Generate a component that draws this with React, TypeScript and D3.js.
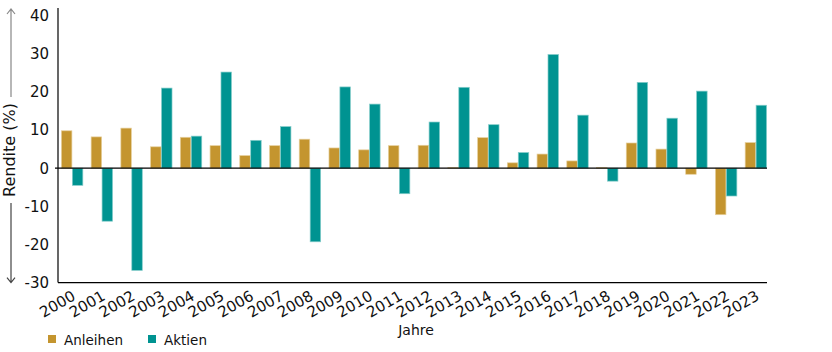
import * as d3 from 'd3';
import { useEffect, useRef } from 'react';

// Jahresrenditen in %
const years = ['2000', '2001', '2002', '2003', '2004', '2005', '2006', '2007', '2008', '2009', '2010', '2011',
  '2012', '2013', '2014', '2015', '2016', '2017', '2018', '2019', '2020', '2021', '2022', '2023'];
const anleihen = [9.8, 8.2, 10.5, 5.6, 8.1, 5.9, 3.3, 5.9, 7.6, 5.3, 4.8, 5.9,
  6.0, 0.2, 8.0, 1.4, 3.7, 1.9, 0.2, 6.6, 5.0, -1.6, -12.2, 6.7];
const aktien = [-4.5, -13.9, -26.8, 21.0, 8.4, 25.2, 7.3, 10.9, -19.3, 21.3, 16.8, -6.7,
  12.1, 21.2, 11.4, 4.1, 29.8, 13.9, -3.4, 22.5, 13.1, 20.2, -7.3, 16.5];
const yTicks = [-30, -20, -10, 0, 10, 20, 30, 40];
const series = ['Anleihen', 'Aktien'];
const colors = ['#c4952f', '#009391'];
const strokes = ['#e6cf9c', '#86cdcb'];

const FONT = '"DejaVu Sans", sans-serif';

export default function App() {
  const svgRef = useRef(null);

  useEffect(() => {
    d3.select(svgRef.current).selectAll('*').remove();

    const width = 832;
    const height = 352;
    const marginLeft = 58;
    const plotRight = 767;
    const top = 8;

    const svg = d3.select(svgRef.current)
      .attr('viewBox', [0, 0, width, height])
      .attr('width', width)
      .attr('height', height)
      .style('font-family', FONT);

    // scales
    const x0 = d3.scaleBand(years, [marginLeft, 770]).paddingInner(0.25).paddingOuter(0.1);
    const x1 = d3.scaleBand(series, [0, x0.bandwidth()]).padding(0.04);
    const y = d3.scaleLinear([-30, 40], [282.6, 15.6]);

    // bars
    const rows = years.map((yr, i) => ({ yr, values: [anleihen[i], aktien[i]] }));
    svg.append('g')
      .selectAll('g')
      .data(rows)
      .join('g')
      .attr('transform', d => `translate(${x0(d.yr)},0)`)
      .selectAll('rect')
      .data(d => d.values.map((v, k) => ({ v, k })))
      .join('rect')
      .attr('x', d => x1(series[d.k]))
      .attr('width', x1.bandwidth())
      .attr('y', d => y(Math.max(0, d.v)))
      .attr('height', d => Math.abs(y(d.v) - y(0)))
      .attr('fill', d => colors[d.k])
      .attr('stroke', d => strokes[d.k])
      .attr('stroke-width', 0.7);

    // axis lines
    svg.append('line')
      .attr('x1', marginLeft).attr('x2', marginLeft)
      .attr('y1', top).attr('y2', y(-30))
      .attr('stroke', '#000').attr('stroke-width', 1.2);
    svg.append('line')
      .attr('x1', marginLeft - 3).attr('x2', plotRight)
      .attr('y1', y(0)).attr('y2', y(0))
      .attr('stroke', '#000').attr('stroke-width', 1.2);
    svg.append('line')
      .attr('x1', marginLeft).attr('x2', plotRight)
      .attr('y1', y(-30)).attr('y2', y(-30))
      .attr('stroke', '#000').attr('stroke-width', 1.2);

    // y tick labels
    svg.append('g')
      .selectAll('text')
      .data(yTicks)
      .join('text')
      .attr('x', marginLeft - 9)
      .attr('y', d => y(d))
      .attr('dy', '0.36em')
      .attr('text-anchor', 'end')
      .attr('font-size', 15)
      .attr('fill', '#111')
      .text(d => d);

    // x tick labels
    svg.append('g')
      .selectAll('text')
      .data(years)
      .join('text')
      .attr('transform', d => `translate(${x0(d) + x0.bandwidth() / 2 - 1},${y(-30) + 7}) rotate(-30)`)
      .attr('text-anchor', 'end')
      .attr('dy', '0.72em')
      .attr('font-size', 15)
      .attr('fill', '#111')
      .text(d => d);

    // axis titles
    svg.append('text')
      .attr('x', 416)
      .attr('y', 335)
      .attr('text-anchor', 'middle')
      .attr('font-size', 14)
      .attr('fill', '#111')
      .text('Jahre');

    svg.append('text')
      .attr('transform', `translate(15,150) rotate(-90)`)
      .attr('text-anchor', 'middle')
      .attr('font-size', 16)
      .attr('fill', '#111')
      .text('Rendite (%)');

    // arrows next to the y title
    const ax = 11;
    svg.append('path')
      .attr('d', `M${ax},97V${top + 1}M${ax - 4},${top + 6}L${ax},${top + 1}L${ax + 4},${top + 6}`)
      .attr('fill', 'none').attr('stroke', '#888').attr('stroke-width', 1.2);
    svg.append('path')
      .attr('d', `M${ax},203V${y(-30)}M${ax - 4},${y(-30) - 5}L${ax},${y(-30)}L${ax + 4},${y(-30) - 5}`)
      .attr('fill', 'none').attr('stroke', '#444').attr('stroke-width', 1.2);

    // legend
    const legendX = [48, 148];
    const legend = svg.append('g')
      .selectAll('g')
      .data(series)
      .join('g')
      .attr('transform', (d, i) => `translate(${legendX[i]},335)`);
    legend.append('rect')
      .attr('width', 8).attr('height', 8)
      .attr('fill', (d, i) => colors[i]);
    legend.append('text')
      .attr('x', 16)
      .attr('y', 10)
      .attr('font-size', 13.5)
      .attr('fill', '#111')
      .text(d => d);
  }, []);

  return <svg ref={svgRef} style={{ position: 'absolute', left: 0, top: 0, display: 'block' }} />;
}
